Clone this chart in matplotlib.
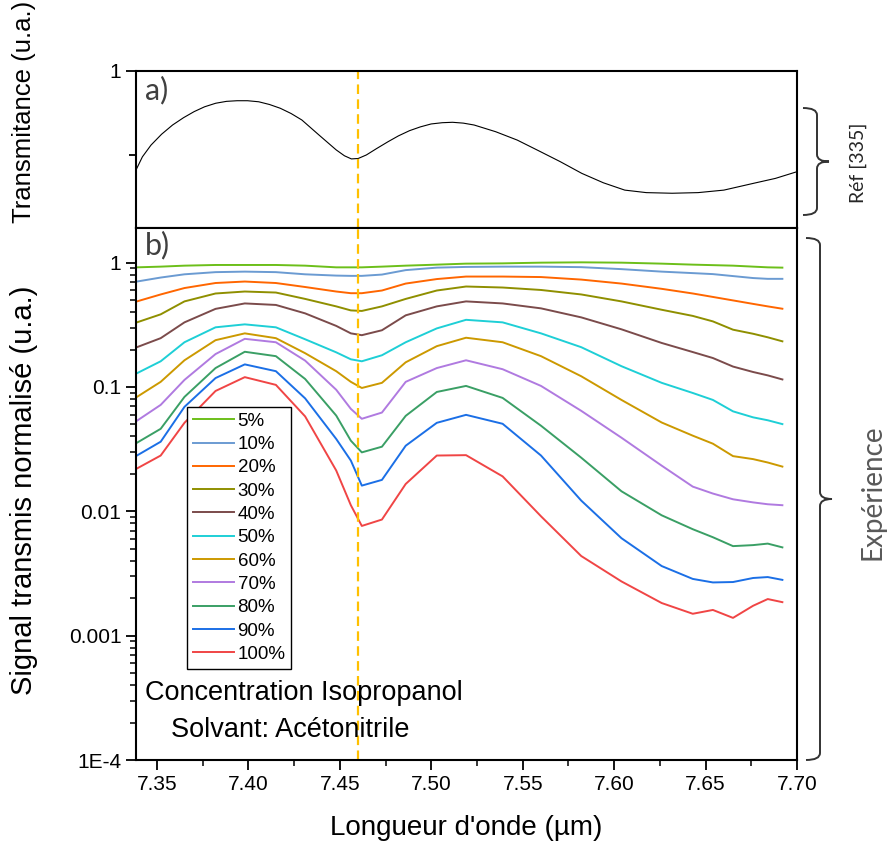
import matplotlib
matplotlib.use("Agg")
import matplotlib.pyplot as plt
from matplotlib.path import Path
from matplotlib.patches import PathPatch
from matplotlib.ticker import FixedLocator, MultipleLocator, NullFormatter, FormatStrFormatter

plt.rcParams['font.family'] = ['Liberation Sans', 'DejaVu Sans']

# %% reference transmittance (panel a)
wl_ref = [7.3385, 7.3420, 7.3467, 7.3525, 7.3585, 7.3645, 7.3703, 7.3760, 7.3821, 7.3880,
          7.3938, 7.3995, 7.4056, 7.4115, 7.4174, 7.4233, 7.4292, 7.4386, 7.4480, 7.4525,
          7.4563, 7.4600, 7.4645, 7.4700, 7.4763, 7.4820, 7.4881, 7.4940, 7.4999, 7.5060,
          7.5116, 7.5175, 7.5234, 7.5352, 7.5470, 7.5587, 7.5705, 7.5823, 7.5941, 7.6058,
          7.6176, 7.6317, 7.6459, 7.6600, 7.6765, 7.6882, 7.7000]
trans_ref = [0.527, 0.590, 0.646, 0.698, 0.742, 0.777, 0.806, 0.829, 0.846, 0.855,
             0.858, 0.858, 0.853, 0.840, 0.822, 0.797, 0.766, 0.694, 0.623, 0.595,
             0.580, 0.582, 0.599, 0.629, 0.662, 0.690, 0.715, 0.733, 0.747, 0.753,
             0.755, 0.751, 0.742, 0.710, 0.670, 0.619, 0.567, 0.511, 0.466, 0.431,
             0.419, 0.416, 0.419, 0.431, 0.464, 0.487, 0.519]

# %% measured signal (panel b)
wl = [7.339, 7.352, 7.365, 7.382, 7.398, 7.415, 7.431, 7.448, 7.456, 7.462,
      7.473, 7.486, 7.503, 7.519, 7.539, 7.560, 7.582, 7.604, 7.626, 7.643,
      7.654, 7.665, 7.676, 7.684, 7.692]

s05 = [0.917, 0.929, 0.946, 0.958, 0.958, 0.958, 0.946, 0.917, 0.917, 0.917,
       0.929, 0.946, 0.964, 0.982, 0.987, 1.000, 1.006, 1.000, 0.982, 0.964,
       0.955, 0.946, 0.929, 0.917, 0.912]
s10 = [0.705, 0.759, 0.806, 0.839, 0.847, 0.839, 0.806, 0.787, 0.783, 0.783,
       0.802, 0.871, 0.912, 0.924, 0.929, 0.929, 0.920, 0.887, 0.847, 0.824,
       0.809, 0.780, 0.752, 0.741, 0.741]
s20 = [0.488, 0.555, 0.625, 0.686, 0.705, 0.686, 0.637, 0.586, 0.568, 0.568,
       0.597, 0.679, 0.738, 0.773, 0.773, 0.766, 0.731, 0.679, 0.616, 0.565,
       0.530, 0.497, 0.466, 0.445, 0.426]
s30 = [0.331, 0.384, 0.488, 0.565, 0.586, 0.575, 0.511, 0.445, 0.413, 0.409,
       0.445, 0.511, 0.597, 0.643, 0.631, 0.603, 0.555, 0.488, 0.418, 0.373,
       0.337, 0.289, 0.268, 0.251, 0.233]
s40 = [0.209, 0.247, 0.331, 0.425, 0.470, 0.457, 0.391, 0.310, 0.270, 0.261,
       0.286, 0.377, 0.445, 0.488, 0.470, 0.429, 0.363, 0.291, 0.226, 0.191,
       0.171, 0.146, 0.132, 0.124, 0.115]
s50 = [0.129, 0.161, 0.229, 0.302, 0.319, 0.302, 0.242, 0.190, 0.167, 0.161,
       0.180, 0.229, 0.296, 0.347, 0.331, 0.270, 0.209, 0.147, 0.108, 0.0895,
       0.0787, 0.0637, 0.0570, 0.0540, 0.0503]
s60 = [0.0832, 0.110, 0.164, 0.238, 0.270, 0.247, 0.187, 0.134, 0.110, 0.0982,
       0.108, 0.158, 0.213, 0.249, 0.229, 0.177, 0.122, 0.0787, 0.0518, 0.0406,
       0.0350, 0.0278, 0.0263, 0.0247, 0.0229]
s70 = [0.0535, 0.0718, 0.114, 0.184, 0.244, 0.229, 0.163, 0.095, 0.0667, 0.0555,
       0.0623, 0.110, 0.142, 0.164, 0.139, 0.102, 0.0643, 0.0391, 0.0233, 0.0158,
       0.0139, 0.0125, 0.0118, 0.0114, 0.0112]
s80 = [0.0356, 0.0461, 0.0832, 0.142, 0.192, 0.177, 0.116, 0.0589, 0.0370, 0.0298,
       0.0331, 0.0586, 0.0912, 0.102, 0.0817, 0.0488, 0.0270, 0.0145, 0.00929, 0.00718,
       0.00619, 0.00525, 0.00535, 0.00550, 0.00513]
s90 = [0.0281, 0.0363, 0.0692, 0.118, 0.152, 0.134, 0.081, 0.0382, 0.0256, 0.0161,
       0.0179, 0.0337, 0.0515, 0.0597, 0.0506, 0.0281, 0.0122, 0.00608, 0.00363, 0.00286,
       0.00268, 0.00270, 0.00291, 0.00296, 0.00281]
s100 = [0.0221, 0.0281, 0.0515, 0.0929, 0.120, 0.104, 0.058, 0.0213, 0.0112, 0.00763,
        0.00859, 0.0166, 0.0281, 0.0283, 0.0191, 0.00912, 0.00437, 0.00273, 0.00183, 0.00150,
        0.00161, 0.00139, 0.00174, 0.00197, 0.00186]

conc_labels = ["5%", "10%", "20%", "30%", "40%", "50%", "60%", "70%", "80%", "90%", "100%"]
series = [s05, s10, s20, s30, s40, s50, s60, s70, s80, s90, s100]
colors = ["#6cbf1a", "#6b9bd2", "#ff6600", "#8f8f00", "#7b4b4b", "#1ecfd6",
          "#cc9900", "#b07ae0", "#3a9f65", "#1b6fe6", "#f04545"]

W, H = 890, 843
fig = plt.figure(figsize=(W / 100, H / 100), dpi=100)

def fx(px):
    return px / W

def fy(py):
    return 1 - py / H

ax_top = fig.add_axes([fx(136), fy(228), fx(797) - fx(136), fy(71) - fy(228)])
ax_bot = fig.add_axes([fx(136), fy(760), fx(797) - fx(136), fy(228) - fy(760)])

# %% panel a
ax_top.plot(wl_ref, trans_ref, color="black", lw=0.8)
ax_top.axvline(7.46, color="#ffc000", lw=1.6, dashes=(4.3, 2.4))
ax_top.set_xlim(7.3385, 7.70)
ax_top.set_ylim(0.25, 1.0)
ax_top.yaxis.set_major_locator(FixedLocator([1.0]))
ax_top.yaxis.set_major_formatter(FormatStrFormatter("%g"))
ax_top.yaxis.set_minor_locator(FixedLocator([0.6]))
ax_top.xaxis.set_major_locator(MultipleLocator(0.05))
ax_top.xaxis.set_major_formatter(NullFormatter())
ax_top.tick_params(axis="both", which="major", direction="out", length=7, width=1.3, labelsize=15)
ax_top.tick_params(axis="y", which="minor", direction="out", length=5, width=1.3)
ax_top.text(0.014, 0.97, "a)", transform=ax_top.transAxes, ha="left", va="top",
            fontsize=22, color="#404040", family=["Lato", "DejaVu Sans"])

# %% panel b
for vals, lab, c in zip(series, conc_labels, colors):
    ax_bot.plot(wl, vals, color=c, lw=1.4, label=lab)
ax_bot.axvline(7.46, color="#ffc000", lw=1.6, dashes=(4.3, 2.4))
ax_bot.set_yscale("log")
ax_bot.set_xlim(7.3385, 7.70)
ax_bot.set_ylim(1e-4, 1.9)
ax_bot.yaxis.set_major_locator(FixedLocator([1e-4, 1e-3, 1e-2, 1e-1, 1]))
ax_bot.set_yticklabels(["1E-4", "0.001", "0.01", "0.1", "1"])
minor = [m * 10.0 ** e for e in range(-4, 1) for m in range(2, 10)]
ax_bot.yaxis.set_minor_locator(FixedLocator(minor))
ax_bot.yaxis.set_minor_formatter(NullFormatter())
ax_bot.xaxis.set_major_locator(MultipleLocator(0.05))
ax_bot.xaxis.set_minor_locator(MultipleLocator(0.025))
ax_bot.xaxis.set_major_formatter(FormatStrFormatter("%.2f"))
ax_bot.tick_params(axis="both", which="major", direction="out", length=7, width=1.3, labelsize=15)
ax_bot.tick_params(axis="both", which="minor", direction="out", length=4, width=1.1)
ax_bot.text(0.014, 0.995, "b)", transform=ax_bot.transAxes, ha="left", va="top",
            fontsize=22, color="#404040", family=["Lato", "DejaVu Sans"])

for ax in (ax_top, ax_bot):
    for sp in ax.spines.values():
        sp.set_linewidth(1.5)

leg = ax_bot.legend(loc="upper left", bbox_to_anchor=(fx(187), fy(407)), bbox_transform=fig.transFigure,
                    fontsize=13.5, frameon=True, fancybox=False, edgecolor="black", framealpha=1,
                    handlelength=2.2, handletextpad=0.2, labelspacing=0.33, borderpad=0.3,
                    borderaxespad=0)
leg.get_frame().set_linewidth(1.0)

fig.text(fx(304), fy(693), "Concentration Isopropanol", ha="center", va="center", fontsize=19.5)
fig.text(fx(290), fy(730), "Solvant: Acétonitrile", ha="center", va="center", fontsize=19.5)

# axis titles
fig.text(fx(466), fy(828), "Longueur d'onde (µm)", ha="center", va="center", fontsize=20)
fig.text(fx(24), fy(490), "Signal transmis normalisé (u.a.)", ha="center", va="center",
         rotation=90, fontsize=21)
fig.text(fx(24), fy(112), "Transmitance (u.a.)", ha="center", va="center", rotation=90, fontsize=18.5)

# %% braces on the right
def brace(ytop, ybot, x0, x1, x2, r=7):
    ymid = (ytop + ybot) / 2
    pts = [(x0, ytop), (x1, ytop), (x1, ytop + r), (x1, ymid - r), (x1, ymid), (x2, ymid),
           (x1, ymid), (x1, ymid + r), (x1, ybot - r), (x1, ybot), (x0, ybot)]
    codes = [Path.MOVETO, Path.CURVE3, Path.CURVE3, Path.LINETO, Path.CURVE3, Path.CURVE3,
             Path.CURVE3, Path.CURVE3, Path.LINETO, Path.CURVE3, Path.CURVE3]
    verts = [(fx(x), fy(y)) for x, y in pts]
    fig.patches.append(PathPatch(Path(verts, codes), transform=fig.transFigure,
                                 fill=False, lw=1.4, edgecolor="#333333"))

brace(108, 215, 803, 817, 829)
brace(238, 760, 806, 820, 832)

fig.text(fx(858), fy(163), "Réf [335]", rotation=90, ha="center", va="center",
         fontsize=14, color="#262626", family=["Lato", "DejaVu Sans"])
fig.text(fx(873), fy(492), "Expérience", rotation=90, ha="center", va="center",
         fontsize=20, color="#595959", family=["Lato", "DejaVu Sans"])

fig.savefig("out.png", dpi=100)
